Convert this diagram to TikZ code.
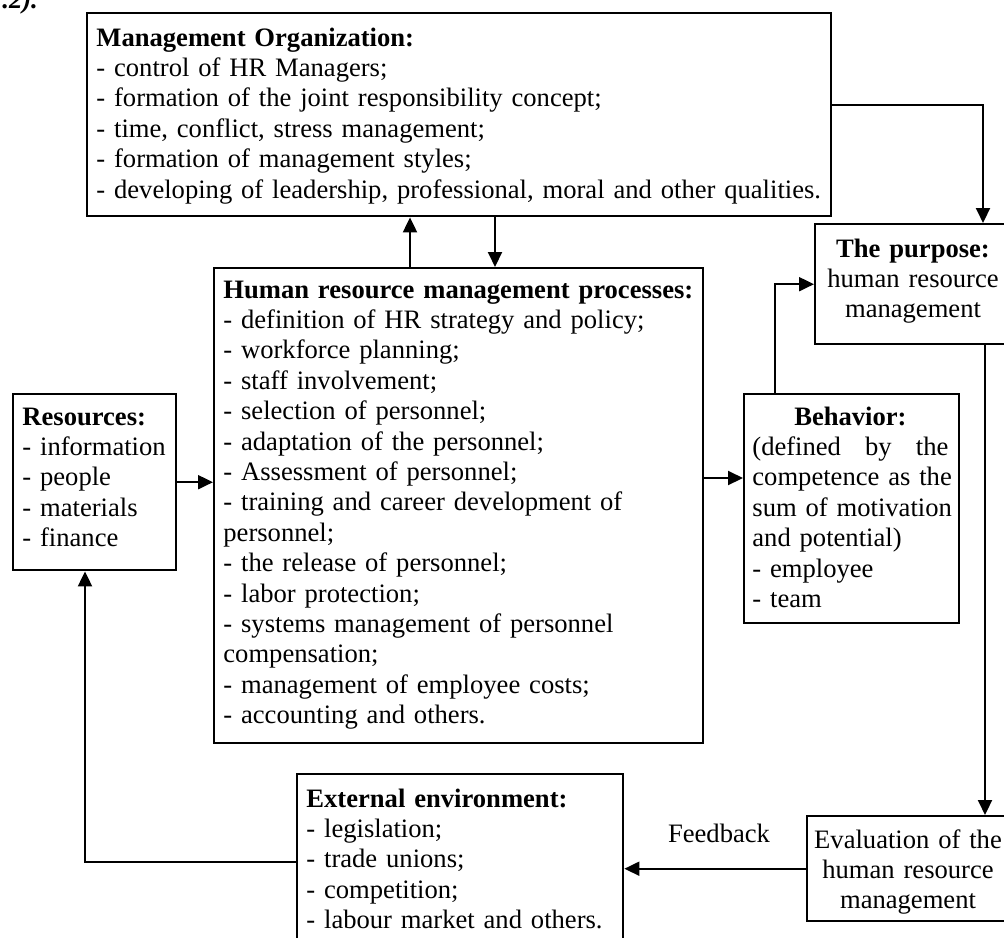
\documentclass[tikz,border=0pt]{standalone}
\usepackage{fontspec}
\setmainfont{Liberation Serif}
\usetikzlibrary{arrows.meta,calc}
\begin{document}
\begin{tikzpicture}[x=0.5pt,y=-0.5pt,
  box/.style={draw, line width=1.2pt, inner sep=0pt, anchor=north west},
  txt/.style={inner sep=0pt, anchor=base west, align=left, font=\fontsize{13.3}{15.2}\selectfont},
  ctxt/.style={inner sep=0pt, anchor=base, align=center, font=\fontsize{13.3}{15.2}\selectfont},
  arr/.style={line width=1pt, -{Triangle[length=7.5pt,width=7pt]}},
  lnk/.style={line width=1pt}]
\useasboundingbox (0,0) rectangle (1004,937);

% clipped caption remnant
\node[txt, font=\fontsize{13.3}{15.2}\selectfont\bfseries\itshape] (capt) at (2,9) {.2).};

% boxes
\node[box, minimum width=372pt, minimum height=101.5pt] (mgmt) at (86,12) {};
\node[box, minimum width=99pt, minimum height=60pt] (purpose) at (814,223) {};
\node[box, minimum width=244.5pt, minimum height=237.5pt] (hrm) at (213,267) {};
\node[box, minimum width=81.5pt, minimum height=88pt] (res) at (12,393) {};
\node[box, minimum width=107.5pt, minimum height=114.5pt] (behav) at (743,393) {};
\node[box, minimum width=102pt, minimum height=52.5pt] (eval) at (806,815) {};
\node[box, minimum width=163pt, minimum height=87.5pt] (ext) at (296,773) {};

% box texts
\node[txt, text width=365pt] (mgmtT) at (96,46) {\textbf{Management Organization:}\\
- control of HR Managers;\\
- formation of the joint responsibility concept;\\
- time, conflict, stress management;\\
- formation of management styles;\\
- developing of leadership, professional, moral and other qualities.};

\node[ctxt, text width=95pt] (purposeT) at (913,257) {\textbf{The purpose:}\\
human resource\\
management};

\node[txt, text width=237pt] (hrmT) at (223,298) {\textbf{Human resource management processes:}\\
- definition of HR strategy and policy;\\
- workforce planning;\\
- staff involvement;\\
- selection of personnel;\\
- adaptation of the personnel;\\
- Assessment of personnel;\\
- training and career development of\\
personnel;\\
- the release of personnel;\\
- labor protection;\\
- systems management of personnel\\
compensation;\\
- management of employee costs;\\
- accounting and others.};

\node[txt, text width=75pt] (resT) at (22,425) {\textbf{Resources:}\\
- information\\
- people\\
- materials\\
- finance};

\node[txt, text width=98pt] (behavT) at (752,425) {\leavevmode\hbox to\linewidth{\hfil\textbf{Behavior:}\hfil}\\
\leavevmode\hbox to\linewidth{(defined\hfill by\hfill the}\\
\mbox{competence as the}\\
\mbox{sum of motivation}\\
\mbox{and potential)}\\
- employee\\
- team};

\node[ctxt, text width=100pt] (evalT) at (908,848) {Evaluation of the\\
human resource\\
management};

\node[txt, text width=155pt] (extT) at (306,807) {\textbf{External environment:}\\
- legislation;\\
- trade unions;\\
- competition;\\
- labour market and others.};

\node[ctxt] (fb) at (719,842) {Feedback};

% connectors
\draw[arr] ($(mgmt.east)+(0,-9.5)$) -| ($(purpose.north west)+(169,0)$);
\draw[arr] ($(behav.north west)+(32,0)$) |- (purpose.west);
\draw[arr] ($(purpose.south west)+(171,0)$) coordinate (pd) -- (pd |- eval.north);
\draw[arr] (eval.west) -- (eval.west -| ext.east);
\draw[arr] (ext.west) -| ($(res.south west)+(73,0)$);
\draw[arr] (res.east) -- (res.east -| hrm.west);
\coordinate (bin) at ($(behav.north west)+(0,85)$);
\draw[arr] (hrm.east |- bin) -- (bin);
\draw[arr] ($(hrm.north west)+(197,0)$) coordinate (up) -- (up |- mgmt.south);
\draw[arr] ($(mgmt.south west)+(409,0)$) coordinate (dn) -- (dn |- hrm.north);
\end{tikzpicture}
\end{document}
